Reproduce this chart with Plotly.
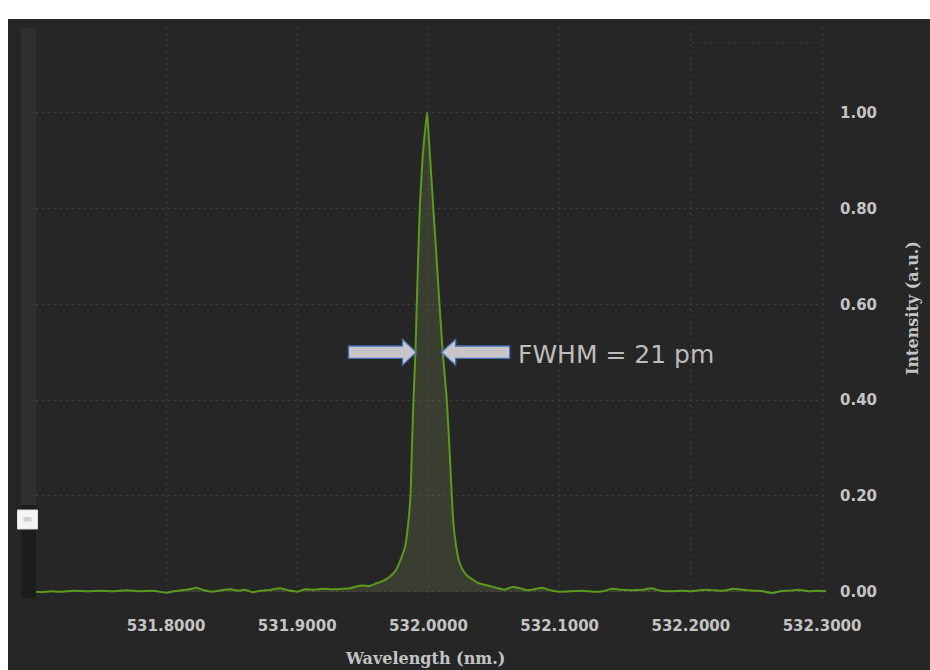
import plotly.graph_objects as go

# ---------------- data ----------------
wavelength_nm = [
    531.7010, 531.7050, 531.7120, 531.7200, 531.7300, 531.7400, 531.7500, 531.7600,
    531.7700, 531.7800, 531.7900, 531.8000, 531.8060, 531.8120, 531.8180, 531.8230,
    531.8290, 531.8350, 531.8420, 531.8490, 531.8550, 531.8600, 531.8660, 531.8720,
    531.8800, 531.8870, 531.8930, 531.9000, 531.9060, 531.9130, 531.9200, 531.9270,
    531.9340, 531.9400, 531.9450, 531.9500, 531.9550, 531.9600, 531.9650, 531.9700,
    531.9750, 531.9785, 531.9823, 531.9845, 531.9863, 531.9874, 531.9886, 531.9901,
    531.9911, 531.9922, 531.9934, 531.9954, 531.9977, 531.9990, 532.0000, 532.0014,
    532.0037, 532.0061, 532.0084, 532.0109, 532.0140, 532.0160, 532.0178, 532.0191,
    532.0211, 532.0232, 532.0261, 532.0300, 532.0337, 532.0388, 532.0450, 532.0520,
    532.0578, 532.0640, 532.0700, 532.0750, 532.0810, 532.0867, 532.0930, 532.1000,
    532.1100, 532.1180, 532.1250, 532.1330, 532.1400, 532.1470, 532.1550, 532.1630,
    532.1700, 532.1770, 532.1850, 532.1930, 532.2000, 532.2100, 532.2180, 532.2250,
    532.2320, 532.2400, 532.2480, 532.2550, 532.2616, 532.2680, 532.2750, 532.2820,
    532.2900, 532.2960, 532.3030,
]
intensity_au = [
    0.000, -0.001, 0.001, 0.000, 0.002, 0.001, 0.002, 0.001,
    0.003, 0.001, 0.002, -0.002, 0.001, 0.003, 0.005, 0.008,
    0.003, 0.000, 0.003, 0.005, 0.002, 0.004, -0.001, 0.002,
    0.004, 0.007, 0.003, 0.000, 0.005, 0.004, 0.006, 0.005,
    0.006, 0.007, 0.011, 0.013, 0.012, 0.017, 0.022, 0.030,
    0.044, 0.065, 0.095, 0.140, 0.200, 0.300, 0.400, 0.500,
    0.600, 0.700, 0.800, 0.900, 0.970, 1.000, 0.960, 0.900,
    0.800, 0.700, 0.600, 0.500, 0.400, 0.300, 0.200, 0.140,
    0.095, 0.065, 0.046, 0.032, 0.025, 0.017, 0.013, 0.008,
    0.004, 0.010, 0.007, 0.003, 0.005, 0.008, 0.003, 0.000,
    0.001, 0.002, 0.000, 0.001, 0.006, 0.004, 0.003, 0.004,
    0.007, 0.002, 0.001, 0.002, 0.001, 0.004, 0.003, 0.002,
    0.006, 0.004, 0.002, 0.001, -0.003, 0.001, 0.002, 0.004,
    0.001, 0.002, 0.001,
]
assert len(wavelength_nm) == len(intensity_au)

x_tick_vals = [531.8, 531.9, 532.0, 532.1, 532.2, 532.3]
y_tick_vals = [0.0, 0.2, 0.4, 0.6, 0.8, 1.0]
x_title = "Wavelength (nm.)"
y_title = "Intensity (a.u.)"
fwhm_label = "FWHM = 21 pm"
half_max = 0.5
fwhm_left_nm = 531.9901
fwhm_right_nm = 532.0109

# ---------------- layout geometry (pixels) ----------------
W, H = 930, 670
L, R, T, B = 36, 826, 27, 598


def px(x):
    return (x - L) / (R - L)


def py(y):
    return (B - y) / (B - T)


BG = "#262626"
GRID = "#424242"
TXT = "#c4c4c4"

fig = go.Figure()
fig.add_trace(go.Scatter(
    x=wavelength_nm, y=intensity_au, mode="lines",
    line=dict(color="#5a9a1c", width=2, shape="spline", smoothing=0.5),
    fill="tozeroy", fillcolor="rgba(105,118,72,0.30)",
    hoverinfo="skip", showlegend=False,
))

shapes = []
# white outer margins (top band and left strip)
shapes.append(dict(type="rect", xref="paper", yref="paper", layer="above",
                   x0=px(-20), x1=px(W + 20), y0=py(19), y1=py(-20),
                   fillcolor="white", line=dict(width=0)))
shapes.append(dict(type="rect", xref="paper", yref="paper", layer="above",
                   x0=px(-20), x1=px(8), y0=py(H + 20), y1=py(-20),
                   fillcolor="white", line=dict(width=0)))
# slider decoration on the left
shapes.append(dict(type="rect", xref="paper", yref="paper", layer="above",
                   x0=px(21), x1=px(36), y0=py(505), y1=py(28),
                   fillcolor="#2f2f2f", line=dict(width=0)))
shapes.append(dict(type="rect", xref="paper", yref="paper", layer="above",
                   x0=px(21), x1=px(36), y0=py(598), y1=py(505),
                   fillcolor="#1c1c1c", line=dict(width=0)))
shapes.append(dict(type="rect", xref="paper", yref="paper", layer="above",
                   x0=px(17.5), x1=px(37.5), y0=py(529), y1=py(510),
                   fillcolor="#f4f4f4", line=dict(width=1, color="#dddddd")))
shapes.append(dict(type="rect", xref="paper", yref="paper", layer="above",
                   x0=px(23.5), x1=px(31.5), y0=py(521.5), y1=py(517),
                   fillcolor="#d0d0d0", line=dict(width=0)))
# stray dotted segment near top right
shapes.append(dict(type="line", xref="paper", yref="paper", layer="below",
                   x0=px(692), x1=px(822), y0=py(43), y1=py(43),
                   line=dict(color=GRID, width=1, dash="2px,4px")))


def arrow_path(direction, tip):
    # direction = +1 : arrow pointing right; -1 : pointing left
    d = direction
    pts = [(-67 * d, 6.2), (-13 * d, 6.2), (-13 * d, 13), (tip * d, 0),
           (-13 * d, -13), (-13 * d, -6.2), (-67 * d, -6.2)]
    return "M " + " L ".join(f"{a},{b}" for a, b in pts) + " Z"


for anchor, d, tip in [(fwhm_left_nm, 1, 1.0), (fwhm_right_nm, -1, 1.5)]:
    shapes.append(dict(type="path", xref="x", yref="y", layer="above",
                       xsizemode="pixel", ysizemode="pixel",
                       xanchor=anchor, yanchor=half_max,
                       path=arrow_path(d, tip),
                       fillcolor="#c9c5c9", line=dict(color="#3f6db0", width=1.3)))

annotations = [
    dict(x=fwhm_right_nm, y=half_max, xref="x", yref="y", text=fwhm_label,
         showarrow=False, xanchor="left", yanchor="middle", xshift=73, yshift=-2,
         font=dict(family="DejaVu Sans", size=25, color="#bdbdbd")),
    dict(x=px(425), y=py(658), xref="paper", yref="paper", text=x_title,
         showarrow=False, xanchor="center", yanchor="middle",
         font=dict(family="DejaVu Serif", size=16, color=TXT, weight="bold")),
    dict(x=px(912), y=py(308), xref="paper", yref="paper", text=y_title,
         showarrow=False, xanchor="center", yanchor="middle", textangle=-90,
         font=dict(family="DejaVu Serif", size=16, color=TXT, weight="bold")),
]

fig.update_layout(
    width=W, height=H,
    margin=dict(l=L, r=W - R, t=T, b=H - B, pad=0),
    paper_bgcolor=BG, plot_bgcolor=BG,
    shapes=shapes, annotations=annotations,
    showlegend=False,
)
fig.update_xaxes(
    range=[531.7009, 532.303], tickvals=x_tick_vals, tickformat=".4f",
    showgrid=True, gridcolor=GRID, gridwidth=1, griddash="2px,4px",
    zeroline=False, showline=False,
    ticks="outside", ticklen=14, tickcolor="rgba(0,0,0,0)",
    tickfont=dict(family="DejaVu Sans", size=15, color=TXT, weight="bold"),
)
fig.update_yaxes(
    range=[-0.0132, 1.1789], tickvals=y_tick_vals, tickformat=".2f", side="right",
    showgrid=True, gridcolor=GRID, gridwidth=1, griddash="2px,4px",
    zeroline=False, showline=False,
    ticks="outside", ticklen=10, tickcolor="rgba(0,0,0,0)",
    tickfont=dict(family="DejaVu Sans", size=15, color=TXT, weight="bold"),
)

fig.write_html(
    "out.html",
    config={"displayModeBar": False},
    post_script="document.body.style.margin='0px';document.body.style.overflow='hidden';",
)
